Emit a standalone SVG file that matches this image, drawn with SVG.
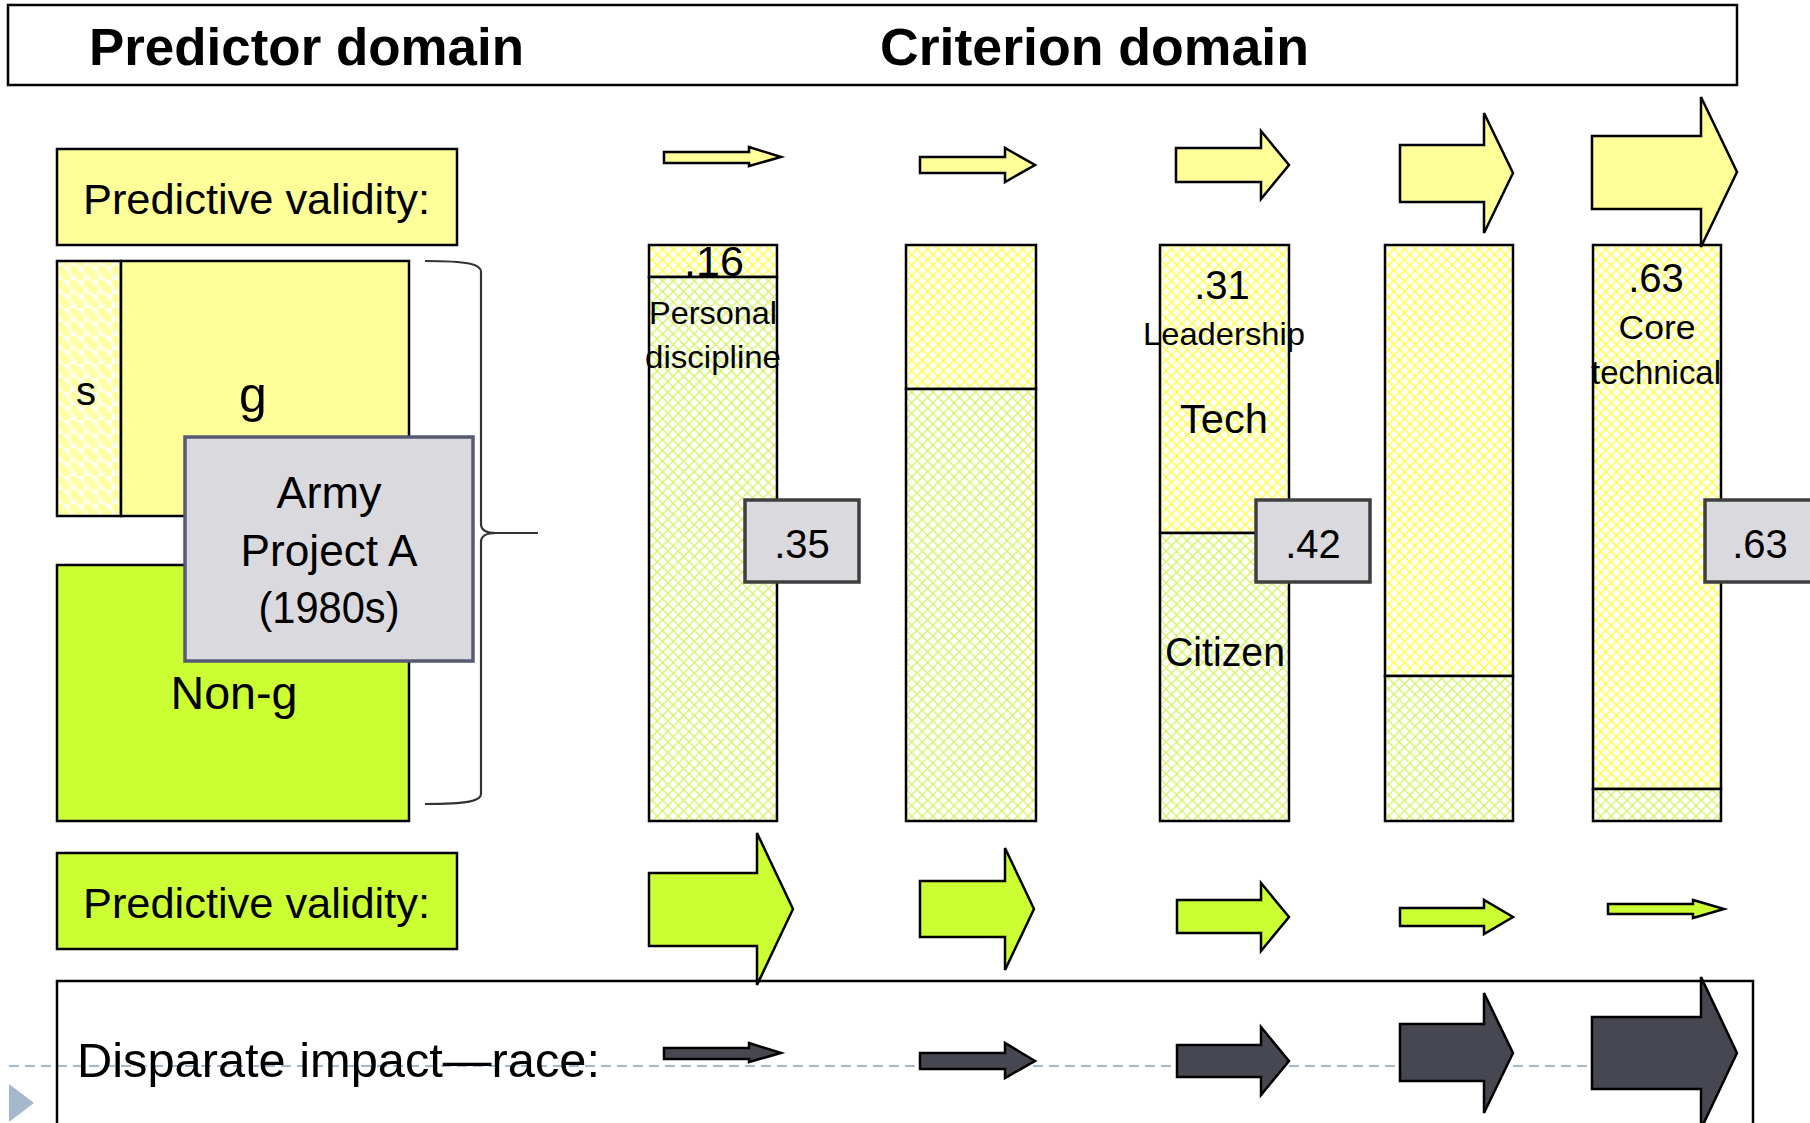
<svg xmlns="http://www.w3.org/2000/svg" width="1810" height="1123" viewBox="0 0 1810 1123">
  <style>
    text { font-family: "Liberation Sans", Arial, sans-serif; fill: #000; }
    .title { font-weight: bold; font-size: 51px; }
    .lbl { font-size: 43px; }
    .big { font-size: 40px; text-anchor: middle; }
    .mid { font-size: 32px; text-anchor: middle; }
    .army { font-size: 44px; text-anchor: middle; }
    .box { stroke: #000; stroke-width: 2.5; }
    .yel { fill: #FFFF99; }
    .grn { fill: #CCFF33; }
    .val { fill: #D9D9DE; stroke: #3F3F3F; stroke-width: 3.5; }
    .arrY { fill: #FFFF99; stroke: #000; stroke-width: 2.5; }
    .arrG { fill: #CCFF33; stroke: #000; stroke-width: 2.5; }
    .arrD { fill: #474752; stroke: #000; stroke-width: 2.5; }
  </style>
  <defs>
    <!-- diamond lattice, yellow lines -->
    <pattern id="latY" patternUnits="userSpaceOnUse" width="10.6" height="10.6">
      <rect width="10.6" height="10.6" fill="#fff"/>
      <path d="M-1,-1 L11.6,11.6 M11.6,-1 L-1,11.6" stroke="#FFFF30" stroke-width="1.2"/>
    </pattern>
    <!-- diamond lattice, yellow-green lines -->
    <pattern id="latG" patternUnits="userSpaceOnUse" width="10.6" height="10.6">
      <rect width="10.6" height="10.6" fill="#fff"/>
      <path d="M-1,-1 L11.6,11.6 M11.6,-1 L-1,11.6" stroke="#D2F25A" stroke-width="1.2"/>
    </pattern>
    <!-- checker with soft dots for the s block -->
    <pattern id="chk" patternUnits="userSpaceOnUse" width="14" height="14">
      <rect width="14" height="14" fill="#FFFFF0"/>
      <rect width="7" height="7" fill="#FFFFA6"/>
      <rect x="7" y="7" width="7" height="7" fill="#FFFFA6"/>
      <circle cx="7" cy="7" r="4.5" fill="#FFFF99" opacity="0.7"/>
    </pattern>
  </defs>

  <!-- slide template decoration -->
  <line x1="9" y1="1066" x2="1737" y2="1066" stroke="#A6B9CC" stroke-width="2" stroke-dasharray="10,6"/>
  <polygon points="9,1084 9,1122 34,1103" fill="#A6B9CC"/>

  <!-- header -->
  <g id="header">
    <rect x="8" y="5" width="1729" height="80" fill="#fff" class="box"/>
    <text class="title" x="89" y="65" textLength="435" lengthAdjust="spacingAndGlyphs">Predictor domain</text>
    <text class="title" x="880" y="65" textLength="429" lengthAdjust="spacingAndGlyphs">Criterion domain</text>
  </g>

  <!-- row labels -->
  <g id="validity-top">
    <rect x="57" y="149" width="400" height="96" class="box yel"/>
    <text class="lbl" x="83" y="214" textLength="347" lengthAdjust="spacingAndGlyphs">Predictive validity:</text>
  </g>
  <g id="validity-bottom">
    <rect x="57" y="853" width="400" height="96" class="box grn"/>
    <text class="lbl" x="83" y="918" textLength="347" lengthAdjust="spacingAndGlyphs">Predictive validity:</text>
  </g>

  <!-- predictor blocks -->
  <g id="pred-s">
    <rect x="57" y="261" width="64" height="255" fill="url(#chk)" class="box"/>
    <text x="86" y="405" font-size="40" text-anchor="middle">s</text>
  </g>
  <g id="pred-g">
    <rect x="121" y="261" width="288" height="255" class="box yel"/>
    <text x="253" y="412" font-size="50" text-anchor="middle">g</text>
  </g>
  <g id="pred-nong">
    <rect x="57" y="565" width="352" height="256" class="box grn"/>
    <text x="234" y="709" font-size="46" text-anchor="middle" textLength="127" lengthAdjust="spacingAndGlyphs">Non-g</text>
  </g>
  <g id="project-a">
    <rect x="185" y="437" width="288" height="224" class="val" style="stroke:#565B72"/>
    <text class="army" x="329" y="508" textLength="105" lengthAdjust="spacingAndGlyphs">Army</text>
    <text class="army" x="329" y="566" textLength="177" lengthAdjust="spacingAndGlyphs">Project A</text>
    <text class="army" x="329" y="623" textLength="141" lengthAdjust="spacingAndGlyphs">(1980s)</text>
  </g>
  <g id="brace">
    <path d="M425,261 C468,261 481,264 481,272 L481,524 C481,530 486,533 496,533 L538,533 M496,533 C486,533 481,536 481,542 L481,794 C481,801 468,804 425,804" fill="none" stroke="#333" stroke-width="2.2"/>
  </g>

  <!-- criterion columns -->
  <g id="col-discipline">
    <rect x="649" y="245" width="128" height="32" fill="url(#latY)" class="box"/>
    <rect x="649" y="277" width="128" height="544" fill="url(#latG)" class="box"/>
    <text class="big" x="714" y="276" style="font-size:43px">.16</text>
    <text class="mid" x="713" y="324" textLength="128" lengthAdjust="spacingAndGlyphs">Personal</text>
    <text class="mid" x="713" y="368" textLength="136" lengthAdjust="spacingAndGlyphs">discipline</text>
  </g>
  <g id="col-2">
    <rect x="906" y="245" width="130" height="144" fill="url(#latY)" class="box"/>
    <rect x="906" y="389" width="130" height="432" fill="url(#latG)" class="box"/>
  </g>
  <g id="col-leadership">
    <rect x="1160" y="245" width="129" height="288" fill="url(#latY)" class="box"/>
    <rect x="1160" y="533" width="129" height="288" fill="url(#latG)" class="box"/>
    <text class="big" x="1222" y="299">.31</text>
    <text class="mid" x="1224" y="345" textLength="162" lengthAdjust="spacingAndGlyphs">Leadership</text>
    <text class="big" x="1224" y="433" textLength="88" lengthAdjust="spacingAndGlyphs">Tech</text>
    <text class="big" x="1225" y="666" textLength="120" lengthAdjust="spacingAndGlyphs">Citizen</text>
  </g>
  <g id="col-4">
    <rect x="1385" y="245" width="128" height="431" fill="url(#latY)" class="box"/>
    <rect x="1385" y="676" width="128" height="145" fill="url(#latG)" class="box"/>
  </g>
  <g id="col-core">
    <rect x="1593" y="245" width="128" height="544" fill="url(#latY)" class="box"/>
    <rect x="1593" y="789" width="128" height="32" fill="url(#latG)" class="box"/>
    <text class="big" x="1656" y="292">.63</text>
    <text class="mid" x="1657" y="339" style="font-size:34px" textLength="77" lengthAdjust="spacingAndGlyphs">Core</text>
    <text class="mid" x="1656" y="384" style="font-size:34px" textLength="130" lengthAdjust="spacingAndGlyphs">technical</text>
  </g>

  <!-- validity values -->
  <g id="val-35">
    <rect x="745" y="500" width="114" height="82" class="val"/>
    <text class="big" x="802" y="558">.35</text>
  </g>
  <g id="val-42">
    <rect x="1256" y="500" width="114" height="82" class="val"/>
    <text class="big" x="1313" y="558">.42</text>
  </g>
  <g id="val-63">
    <rect x="1705" y="500" width="114" height="82" class="val"/>
    <text class="big" x="1760" y="558">.63</text>
  </g>

  <!-- disparate impact frame -->
  <g id="impact">
    <rect x="57" y="981" width="1696" height="160" fill="none" class="box"/>
    <text x="77" y="1077" font-size="49" textLength="523" lengthAdjust="spacingAndGlyphs">Disparate impact—race:</text>
  </g>

  <!-- arrows -->
  <g id="connectors">
    <polygon class="arrY" points="664,152 749,152 749,147 781,157 749,166 749,163 664,163"/>
    <polygon class="arrY" points="920,157 1005,157 1005,148 1035,165 1005,182 1005,173 920,173"/>
    <polygon class="arrY" points="1176,148 1261,148 1261,131 1289,165 1261,199 1261,182 1176,182"/>
    <polygon class="arrY" points="1400,145 1484,145 1484,113 1513,173 1484,233 1484,202 1400,202"/>
    <polygon class="arrY" points="1592,136 1701,136 1701,97 1737,172 1701,247 1701,209 1592,209"/>

    <polygon class="arrG" points="649,873 757,873 757,833 793,909 757,985 757,946 649,946"/>
    <polygon class="arrG" points="920,881 1005,881 1005,848 1034,909 1005,970 1005,937 920,937"/>
    <polygon class="arrG" points="1177,900 1261,900 1261,883 1289,917 1261,951 1261,933 1177,933"/>
    <polygon class="arrG" points="1400,908 1484,908 1484,900 1513,917 1484,934 1484,926 1400,926"/>
    <polygon class="arrG" points="1608,904 1693,904 1693,900 1724,909 1693,918 1693,914 1608,914"/>

    <polygon class="arrD" points="664,1048 749,1048 749,1043 781,1053 749,1062 749,1059 664,1059"/>
    <polygon class="arrD" points="920,1053 1005,1053 1005,1043 1035,1061 1005,1078 1005,1069 920,1069"/>
    <polygon class="arrD" points="1177,1045 1261,1045 1261,1027 1289,1061 1261,1095 1261,1077 1177,1077"/>
    <polygon class="arrD" points="1400,1024 1484,1024 1484,993 1513,1053 1484,1113 1484,1081 1400,1081"/>
    <polygon class="arrD" points="1592,1017 1701,1017 1701,977 1737,1053 1701,1129 1701,1089 1592,1089"/>
  </g>
</svg>
